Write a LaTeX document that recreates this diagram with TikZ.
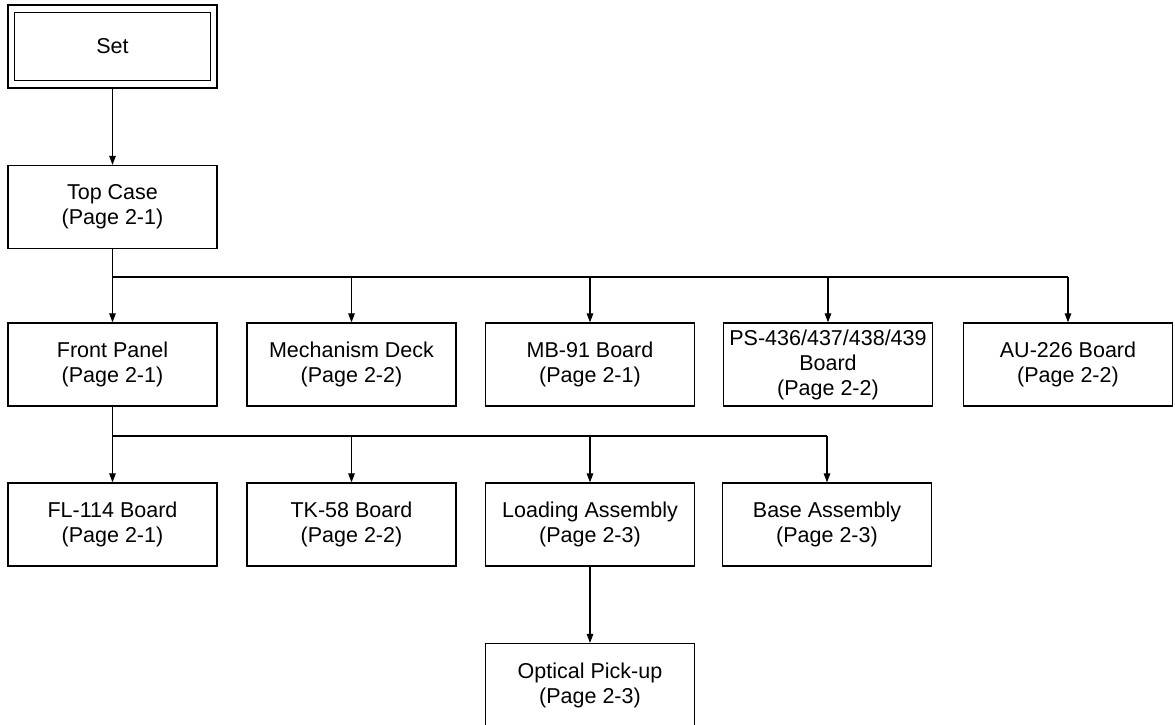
\documentclass[tikz,border=0pt]{standalone}
\usepackage{fontspec}
\setmainfont{Liberation Sans}
\usetikzlibrary{arrows.meta}
\begin{document}
\begin{tikzpicture}[x=1pt,y=-1pt,
  box/.style={draw, line width=1.2pt, minimum width=209pt, minimum height=83pt,
    align=center, inner sep=0pt, font=\fontsize{21.5}{25}\selectfont},
  conn/.style={line width=1.1pt},
  arr/.style={line width=1.1pt, -{Triangle[length=9pt,width=6.5pt]}}]
\useasboundingbox (0,0) rectangle (1175,725);
% nodes
\node[box] (set) at (112.5,46.5) {Set};
\draw[line width=1.2pt] ([shift={(7,8)}]set.north west) rectangle ([shift={(-7,-8)}]set.south east);
\node[box] (top) at (112.5,207) {Top Case\\(Page 2-1)};
\node[box] (front) at (112.5,364.5) {Front Panel\\(Page 2-1)};
\node[box] (mech) at (351.5,364.5) {Mechanism Deck\\(Page 2-2)};
\node[box] (mb) at (590,364.5) {MB-91 Board\\(Page 2-1)};
\node[box] (ps) at (828,364.5) {PS-436/437/438/439\\Board\\(Page 2-2)};
\node[box] (au) at (1068,364.5) {AU-226 Board\\(Page 2-2)};
\node[box] (fl) at (112.5,524.5) {FL-114 Board\\(Page 2-1)};
\node[box] (tk) at (351.5,524.5) {TK-58 Board\\(Page 2-2)};
\node[box] (load) at (590,524.5) {Loading Assembly\\(Page 2-3)};
\node[box] (base) at (827,524.5) {Base Assembly\\(Page 2-3)};
\node[box] (opt) at (590,685) {Optical Pick-up\\(Page 2-3)};
% bus coordinates
\coordinate (b1) at (112.5,277);
\coordinate (b2) at (112.5,436);
% connectors
\draw[arr] (set) -- (top);
\draw[conn] (top.south) -- (b1) -- (b1 -| au.north);
\draw[arr] (b1) -- (front.north);
\draw[arr] (b1 -| mech.north) -- (mech.north);
\draw[arr] (b1 -| mb.north) -- (mb.north);
\draw[arr] (b1 -| ps.north) -- (ps.north);
\draw[arr] (b1 -| au.north) -- (au.north);
\draw[conn] (front.south) -- (b2) -- (b2 -| base.north);
\draw[arr] (b2) -- (fl.north);
\draw[arr] (b2 -| tk.north) -- (tk.north);
\draw[arr] (b2 -| load.north) -- (load.north);
\draw[arr] (b2 -| base.north) -- (base.north);
\draw[arr] (load) -- (opt);
\end{tikzpicture}
\end{document}
